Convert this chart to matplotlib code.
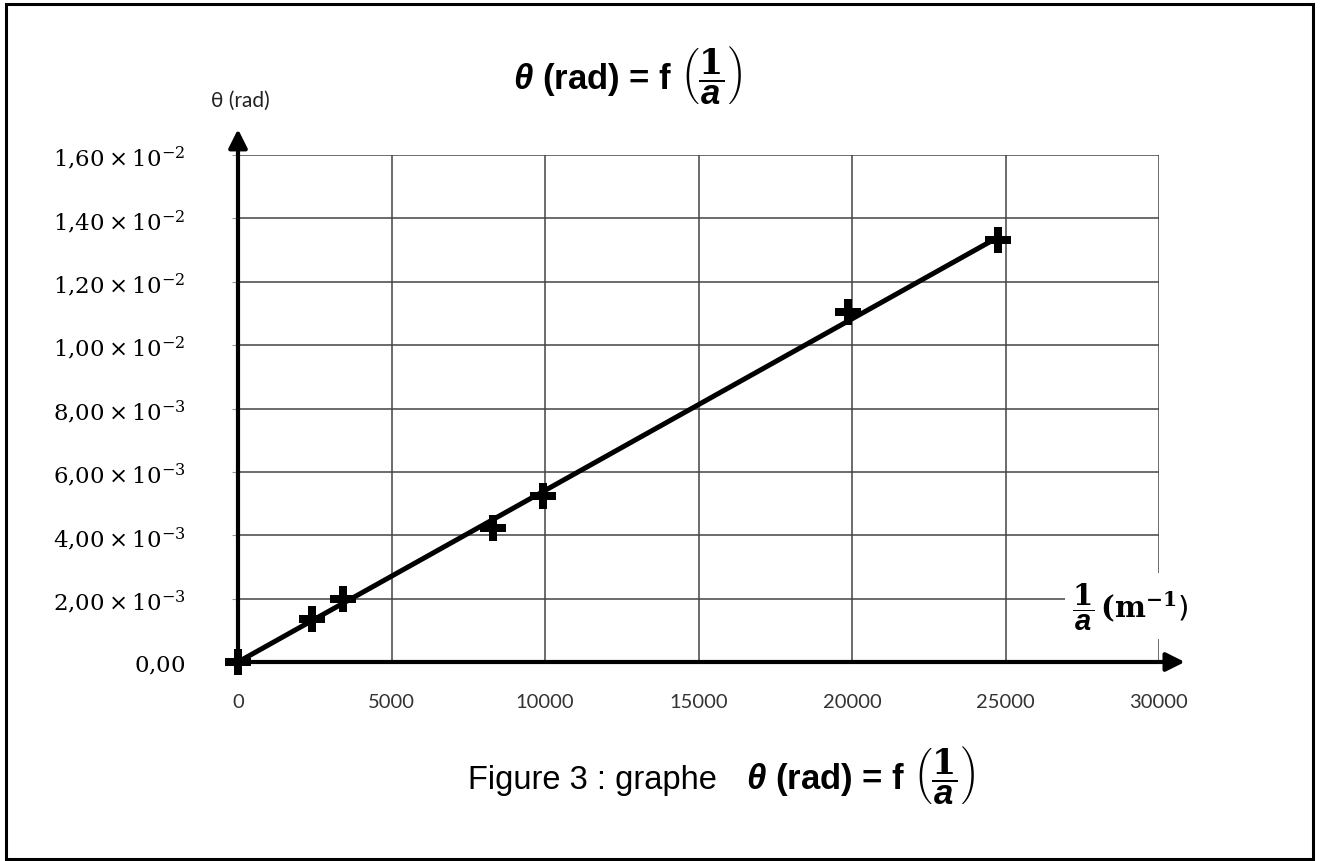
import numpy as np
import matplotlib
matplotlib.use('Agg')
import matplotlib.pyplot as plt
from matplotlib.patches import Rectangle

plt.rcParams['mathtext.fontset'] = 'custom'
plt.rcParams['mathtext.rm'] = 'DejaVu Serif'
plt.rcParams['mathtext.it'] = 'DejaVu Serif:italic'
plt.rcParams['mathtext.bf'] = 'DejaVu Serif:bold'
plt.rcParams['mathtext.bfit'] = 'Liberation Sans:bold:italic'

# donnees
inv_a = [0, 2400, 3430, 8300, 9950, 19870, 24760]          # 1/a (m^-1)
theta = [0, 1.35e-3, 2.0e-3, 4.22e-3, 5.25e-3, 1.103e-2, 1.331e-2]  # rad

x_ticks = [0, 5000, 10000, 15000, 20000, 25000, 30000]
x_labels = ['0', '5000', '10000', '15000', '20000', '25000', '30000']
y_ticks = [0, 2e-3, 4e-3, 6e-3, 8e-3, 1e-2, 1.2e-2, 1.4e-2, 1.6e-2]
y_labels = ['$0{,}00$',
            r'$2{,}00 \times 10^{-3}$', r'$4{,}00 \times 10^{-3}$',
            r'$6{,}00 \times 10^{-3}$', r'$8{,}00 \times 10^{-3}$',
            r'$1{,}00 \times 10^{-2}$', r'$1{,}20 \times 10^{-2}$',
            r'$1{,}40 \times 10^{-2}$', r'$1{,}60 \times 10^{-2}$']

W, H = 1322, 862
fig = plt.figure(figsize=(W / 100, H / 100), dpi=100)
ax = fig.add_axes([238 / W, 1 - 663 / H, (1159 - 238) / W, (663 - 156) / H])

# droite moyenne passant par l'origine (moindres carres)
x = np.array(inv_a, dtype=float)
y = np.array(theta)
k = np.sum(x * y) / np.sum(x * x)
xl = np.array([0, x.max()])
ax.plot(xl, k * xl, color='black', lw=3.6, solid_capstyle='butt', zorder=3)
ax.plot(x, y, linestyle='None', marker='P', markersize=19, color='black',
        markeredgewidth=0, zorder=4, clip_on=False)

ax.set_xlim(0, 30000)
ax.set_ylim(0, 0.016)
ax.set_xticks(x_ticks, x_labels)
ax.set_yticks(y_ticks, y_labels)
ax.grid(True, color='#444444', lw=1.1)
ax.set_axisbelow(True)
for s in ['top', 'right', 'left', 'bottom']:
    ax.spines[s].set_visible(False)
ax.tick_params(axis='y', length=4, color='#999999', pad=34, labelsize=16.5)
ax.tick_params(axis='x', length=0, pad=22, labelsize=14.5, labelcolor='#333333')
for t in ax.get_xticklabels():
    t.set_fontfamily('Lato')

# axes avec fleches
ax.annotate('', xy=(0, 1.051), xytext=(0, 0), xycoords='axes fraction',
            arrowprops=dict(arrowstyle='-|>', lw=3, mutation_scale=28, color='black',
                            shrinkA=0, shrinkB=0), annotation_clip=False, zorder=5)
ax.annotate('', xy=(1.028, 0), xytext=(0, 0), xycoords='axes fraction',
            arrowprops=dict(arrowstyle='-|>', lw=3, mutation_scale=28, color='black',
                            shrinkA=0, shrinkB=0), annotation_clip=False, zorder=5)

fig.text(240 / W, 1 - 101 / H, 'θ (rad)', family='Lato', fontsize=15,
         ha='center', va='center', color='#222222')
fig.text(1130 / W, 1 - 607 / H,
         r'$\dfrac{\mathbf{1}}{\mathbfit{a}}\,\mathbf{(m^{-1}}$)', fontsize=21,
         ha='center', va='center',
         bbox=dict(facecolor='white', edgecolor='none', pad=5))

titre = r'$\mathbfit{\theta}$ (rad) = f $\left(\dfrac{\mathbf{1}}{\mathbfit{a}}\right)$'
fig.text(513 / W, 1 - 89 / H, titre, family='Liberation Sans', weight='bold',
         fontsize=25, ha='left', va='baseline')
fig.text(468 / W, 1 - 789 / H, 'Figure 3 : graphe', family='Liberation Sans',
         fontsize=23.5, ha='left', va='baseline')
fig.text(746 / W, 1 - 789 / H, titre, family='Liberation Sans', weight='bold',
         fontsize=25, ha='left', va='baseline')

# cadre
fig.patches.append(Rectangle((6 / W, 1 - 860 / H), (1313 - 6) / W, (860 - 5) / H,
                             transform=fig.transFigure, fill=False,
                             edgecolor='black', lw=2.2))

fig.savefig('out.png', dpi=100, facecolor='white')
